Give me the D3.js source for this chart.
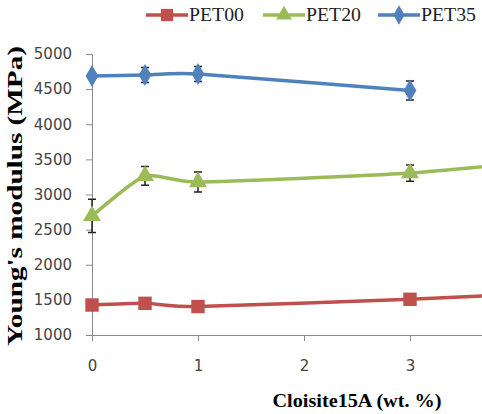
<!DOCTYPE html>
<html lang="en">
<head>
<meta charset="UTF-8">
<title>Young's modulus</title>
<style>
  body { margin: 0; background: #fff; }
  svg { display: block; }
</style>
</head>
<body>
<script src="https://cdn.jsdelivr.net/npm/d3@7"></script>
<script>
// data
const loading = [0, 0.5, 1, 3, 5];
const pet00 = [1427, 1451, 1405, 1508, 1650];
const pet20 = [2695, 3265, 3178, 3305, 3590];
const pet35 = [4688, 4702, 4716, 4479];
const pet20Err = [237, 135, 142, 115, 0];
const pet35Err = [0, 107, 107, 135];
const seriesNames = ['PET00', 'PET20', 'PET35'];
const yTicks = [1000, 1500, 2000, 2500, 3000, 3500, 4000, 4500, 5000];
const xTicks = [0, 1, 2, 3];

const W = 482, H = 414;
const serif = "'Liberation Serif', 'Times New Roman', Times, serif";
const svg = d3.select('body').append('svg')
    .attr('width', W)
    .attr('height', H);

const x = d3.scaleLinear().domain([0, 5]).range([92, 622]);
const y = d3.scaleLinear().domain([1000, 5000]).range([335, 54]);

// axes
const yAxis = svg.append('g')
    .attr('transform', 'translate(92,0)')
    .call(d3.axisLeft(y).tickValues(yTicks).tickFormat(d3.format('d'))
      .tickSize(6).tickSizeOuter(0).tickPadding(14));
const xAxis = svg.append('g')
    .attr('transform', 'translate(0,335)')
    .call(d3.axisBottom(x).tickValues(xTicks).tickFormat(d3.format('d'))
      .tickSize(6).tickSizeOuter(0).tickPadding(19));
[xAxis, yAxis].forEach(g => {
  g.select('.domain').attr('stroke', '#8a8a8a');
  g.selectAll('.tick line').attr('stroke', '#8a8a8a');
  g.selectAll('.tick text')
      .attr('font-family', 'DejaVu Sans')
      .attr('font-size', 15)
      .attr('fill', '#444');
});

// axis titles
svg.append('text')
    .attr('x', 357).attr('y', 407)
    .attr('text-anchor', 'middle')
    .style('font-family', serif)
    .attr('font-weight', 'bold')
    .attr('font-size', 19)
    .attr('textLength', 169)
    .attr('lengthAdjust', 'spacingAndGlyphs')
    .text('Cloisite15A (wt. %)');
svg.append('text')
    .attr('transform', 'translate(22,196) rotate(-90)')
    .attr('text-anchor', 'middle')
    .style('font-family', serif)
    .attr('font-weight', 'bold')
    .attr('font-size', 22)
    .attr('textLength', 300)
    .attr('lengthAdjust', 'spacingAndGlyphs')
    .text("Young's modulus (MPa)");

const series = [
  { name: 'PET00', color: '#C0504D', vals: pet00, err: null, shape: d3.symbolSquare },
  { name: 'PET20', color: '#9BBB59', vals: pet20, err: pet20Err, shape: d3.symbolTriangle },
  { name: 'PET35', color: '#4F81BD', vals: pet35, err: pet35Err, shape: d3.symbolDiamond }
];

const line = d3.line()
    .x(d => x(d[0]))
    .y(d => y(d[1]))
    .curve(d3.curveCardinal.tension(0.45));

series.forEach(s => {
  const pts = s.vals.map((v, i) => [loading[i], v]);
  const g = svg.append('g');
  g.append('path')
      .datum(pts)
      .attr('d', line)
      .attr('fill', 'none')
      .attr('stroke', s.color)
      .attr('stroke-width', 3.5);
  if (s.err) {
    pts.forEach((p, i) => {
      const e = s.err[i];
      if (!e) return;
      const cx = x(p[0]);
      g.append('path')
          .attr('d', `M${cx},${y(p[1] - e)}V${y(p[1] + e)}M${cx - 4},${y(p[1] - e)}H${cx + 4}M${cx - 4},${y(p[1] + e)}H${cx + 4}`)
          .attr('stroke', '#222')
          .attr('stroke-width', 1.5)
          .attr('fill', 'none');
    });
  }
  g.selectAll('.m')
      .data(pts)
      .enter()
      .append('path')
      .attr('transform', d => `translate(${x(d[0])},${y(d[1])})`)
      .attr('d', d3.symbol().type(s.shape).size(s.shape === d3.symbolSquare ? 180 : 140))
      .attr('fill', s.color);
});

// legend
const legX = [146, 263, 378];
series.forEach((s, i) => {
  const lg = svg.append('g').attr('transform', `translate(${legX[i]},15)`);
  lg.append('line')
      .attr('x1', 0).attr('x2', 42)
      .attr('stroke', s.color)
      .attr('stroke-width', 3.5);
  lg.append('path')
      .attr('transform', 'translate(21,0)')
      .attr('d', d3.symbol().type(s.shape).size(s.shape === d3.symbolSquare ? 150 : 110))
      .attr('fill', s.color);
  lg.append('text')
      .attr('x', 43).attr('y', 6)
      .style('font-family', serif)
      .attr('font-size', 18)
      .attr('textLength', 55)
      .attr('lengthAdjust', 'spacingAndGlyphs')
      .attr('fill', '#222')
      .text(seriesNames[i]);
});
</script>
</body>
</html>
